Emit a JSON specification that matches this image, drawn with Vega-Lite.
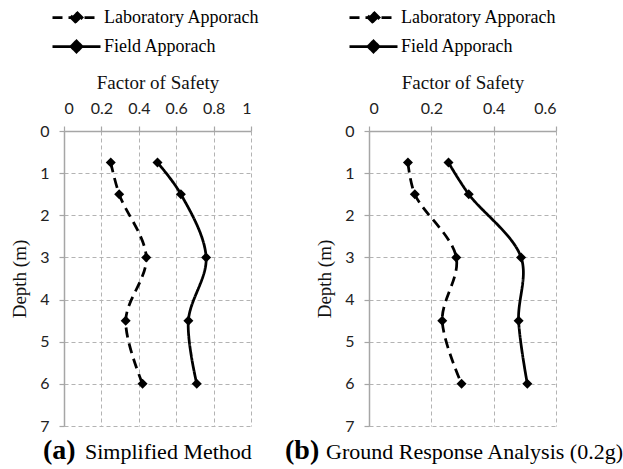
{
  "$schema": "https://vega.github.io/schema/vega-lite/v6.json",
  "background": "white",
  "padding": {"left": 10, "top": 8, "right": 0, "bottom": 0},
  "datasets": {
    "d": [
      {"panel": "a", "series": "Laboratory Apporach", "depth": 0.75, "fos": 0.25},
      {"panel": "a", "series": "Laboratory Apporach", "depth": 1.5, "fos": 0.295},
      {"panel": "a", "series": "Laboratory Apporach", "depth": 3, "fos": 0.44},
      {"panel": "a", "series": "Laboratory Apporach", "depth": 4.5, "fos": 0.33},
      {"panel": "a", "series": "Laboratory Apporach", "depth": 6, "fos": 0.42},
      {"panel": "a", "series": "Field Apporach", "depth": 0.75, "fos": 0.5},
      {"panel": "a", "series": "Field Apporach", "depth": 1.5, "fos": 0.625},
      {"panel": "a", "series": "Field Apporach", "depth": 3, "fos": 0.76},
      {"panel": "a", "series": "Field Apporach", "depth": 4.5, "fos": 0.665},
      {"panel": "a", "series": "Field Apporach", "depth": 6, "fos": 0.71},
      {"panel": "b", "series": "Laboratory Apporach", "depth": 0.75, "fos": 0.125},
      {"panel": "b", "series": "Laboratory Apporach", "depth": 1.5, "fos": 0.147},
      {"panel": "b", "series": "Laboratory Apporach", "depth": 3, "fos": 0.28},
      {"panel": "b", "series": "Laboratory Apporach", "depth": 4.5, "fos": 0.235},
      {"panel": "b", "series": "Laboratory Apporach", "depth": 6, "fos": 0.297},
      {"panel": "b", "series": "Field Apporach", "depth": 0.75, "fos": 0.255},
      {"panel": "b", "series": "Field Apporach", "depth": 1.5, "fos": 0.32},
      {"panel": "b", "series": "Field Apporach", "depth": 3, "fos": 0.488},
      {"panel": "b", "series": "Field Apporach", "depth": 4.5, "fos": 0.48},
      {"panel": "b", "series": "Field Apporach", "depth": 6, "fos": 0.508}
    ]
  },
  "hconcat": [
    {
      "title": {"text": "(a)", "orient": "bottom", "anchor": "start", "frame": "group", "dx": -21, "dy": -30, "font": "Liberation Serif", "fontSize": 28, "fontWeight": "bold", "color": "black"},
      "resolve": {"legend": {"strokeDash": "independent"}},
      "vconcat": [
        {
          "width": 187,
          "height": 295,
          "title": {"text": "Simplified Method", "orient": "bottom", "anchor": "start", "frame": "group", "dx": 21, "offset": 8, "font": "Liberation Serif", "fontSize": 22, "fontWeight": "normal", "color": "black"},
          "data": {"name": "d"},
          "transform": [{"filter": "datum.panel == 'a'"}],
          "encoding": {
            "y": {"field": "depth", "type": "quantitative", "scale": {"domain": [0, 7], "reverse": true, "nice": false}, "axis": {"values": [0, 1, 2, 3, 4, 5, 6, 7], "title": "Depth (m)"}},
            "x": {"field": "fos", "type": "quantitative", "scale": {"domain": [0, 1], "nice": false}, "axis": {"orient": "top", "values": [0, 0.2, 0.4, 0.6, 0.8, 1], "format": "~g", "title": "Factor of Safety"}}
          },
          "layer": [
            {
              "mark": {"type": "line", "interpolate": "catmull-rom", "color": "black", "strokeWidth": 2.75},
              "encoding": {
                "strokeDash": {"field": "series", "type": "nominal", "scale": {"domain": ["Laboratory Apporach", "Field Apporach"], "range": [[10, 6], [1, 0]]}, "legend": {"legendX": 3, "legendY": -123}},
                "order": {"field": "depth", "type": "quantitative"}
              }
            },
            {"mark": {"type": "point", "shape": "diamond", "filled": true, "color": "black", "size": 100, "opacity": 1}}
          ]
        }
      ]
    },
    {
      "title": {"text": "(b)", "orient": "bottom", "anchor": "start", "frame": "group", "dx": -84, "dy": -30, "font": "Liberation Serif", "fontSize": 28, "fontWeight": "bold", "color": "black"},
      "resolve": {"legend": {"strokeDash": "independent"}},
      "vconcat": [
        {
          "width": 187,
          "height": 295,
          "title": {"text": "Ground Response Analysis (0.2g)", "orient": "bottom", "anchor": "start", "frame": "group", "dx": -43, "offset": 8, "font": "Liberation Serif", "fontSize": 22, "fontWeight": "normal", "color": "black"},
          "data": {"name": "d"},
          "transform": [{"filter": "datum.panel == 'b'"}],
          "encoding": {
            "y": {"field": "depth", "type": "quantitative", "scale": {"domain": [0, 7], "reverse": true, "nice": false}, "axis": {"values": [0, 1, 2, 3, 4, 5, 6, 7], "title": "Depth (m)"}},
            "x": {"field": "fos", "type": "quantitative", "scale": {"domain": [0, 0.6], "nice": false}, "axis": {"orient": "top", "values": [0, 0.2, 0.4, 0.6], "format": "~g", "title": "Factor of Safety"}}
          },
          "layer": [
            {
              "mark": {"type": "line", "interpolate": "catmull-rom", "color": "black", "strokeWidth": 2.75},
              "encoding": {
                "strokeDash": {"field": "series", "type": "nominal", "scale": {"domain": ["Laboratory Apporach", "Field Apporach"], "range": [[10, 6], [1, 0]]}, "legend": {"legendX": -5, "legendY": -123}},
                "order": {"field": "depth", "type": "quantitative"}
              }
            },
            {"mark": {"type": "point", "shape": "diamond", "filled": true, "color": "black", "size": 100, "opacity": 1}}
          ]
        }
      ]
    }
  ],
  "bounds": "flush",
  "spacing": 305,
  "resolve": {"scale": {"x": "independent", "y": "independent"}, "legend": {"strokeDash": "independent"}},
  "config": {
    "view": {"stroke": null},
    "axis": {
      "domainColor": "#a6a6a6", "domainWidth": 1.5, "tickColor": "#a6a6a6", "tickSize": 5, "tickWidth": 1.2,
      "gridColor": "#b3b3b3", "gridDash": [4, 3], "gridWidth": 1,
      "labelFont": "Lato", "labelFontSize": 16, "labelColor": "#222222", "labelPadding": 10,
      "titleFont": "Liberation Serif", "titleFontSize": 19, "titleFontWeight": "normal", "titleColor": "#111111"
    },
    "axisY": {"titlePadding": 10},
    "axisX": {"titlePadding": 8},
    "legend": {
      "title": null, "orient": "none",
      "symbolType": "M-3,0H3M0,-0.69L0.69,0L0,0.69L-0.69,0Z",
      "symbolSize": 256, "symbolStrokeWidth": 2.75, "symbolStrokeColor": "black", "symbolFillColor": "black", "symbolOpacity": 1,
      "labelFont": "Liberation Serif", "labelFontSize": 18, "labelColor": "black", "labelOffset": 18, "labelLimit": 300,
      "rowPadding": 6
    }
  }
}
